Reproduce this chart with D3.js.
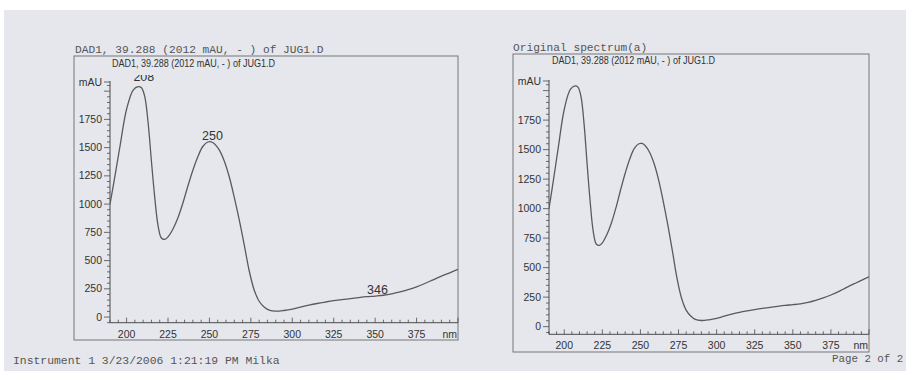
<!DOCTYPE html>
<html><head><meta charset="utf-8">
<script src="https://cdn.jsdelivr.net/npm/d3@7"></script>
<style>
html,body{margin:0;padding:0;background:#fff;}
svg{display:block;}
</style></head>
<body>
<svg id="c" width="906" height="371"></svg>
<script>
// Spectrum data (wavelength nm, absorbance mAU)
const wavelengths = [190,193,196,200,204,207,209,211,213,215,217,219,221,223,225,228,231,234,237,240,243,246,249,251,253,256,259,262,265,268,271,274,277,280,283,286,290,295,300,305,310,315,320,325,330,335,340,345,350,355,360,365,370,375,380,385,390,395,400];
const absorbance  = [1000,1250,1510,1840,2010,2040,2030,1950,1720,1380,1060,810,700,688,710,780,880,1010,1160,1300,1420,1510,1550,1552,1535,1478,1380,1240,1060,860,640,410,240,140,90,62,52,58,70,88,105,120,133,145,155,163,172,180,186,193,205,222,243,268,297,330,362,392,422];
const xTicks = [200,225,250,275,300,325,350,375];
const yTicks = [0,250,500,750,1000,1250,1500,1750];
const peakNm = [208,250,346];
const peakLabels = ["208","250","346"];
const outerTitles = ["DAD1, 39.288 (2012 mAU, - ) of JUG1.D","Original spectrum(a)"];
const innerTitle = "DAD1, 39.288 (2012 mAU, - ) of JUG1.D";
const footerLeft = "Instrument 1 3/23/2006 1:21:19 PM Milka";
const footerRight = "Page 2 of 2";

const data = wavelengths.map((w,i)=>({w, a:absorbance[i]}));
const svg = d3.select("#c");
svg.append("rect").attr("x",4).attr("y",10).attr("width",902).attr("height",361).attr("fill","#e5e7ed");

const ink = "#4a4a4a";
const mono = "'Liberation Mono','DejaVu Sans Mono',monospace";
const sans = "'Liberation Sans',Arial,sans-serif";

const panels = [
  {box:[74,56,458,340], px:[110,458], py:[322.7,81], yd:[-50,2090], title:outerTitles[0], tx:75, ty:53, inner:[112,67,163], labels:true},
  {box:[513,54,869,352], px:[549,869], py:[334.3,80], yd:[-65,2090], title:outerTitles[1], tx:513, ty:51, inner:[552,64,163], labels:false}
];

panels.forEach((p,pi)=>{
  const g = svg.append("g");
  g.append("text").attr("x",p.tx).attr("y",p.ty).attr("font-family",mono).attr("font-size",11.2)
   .attr("fill","#555").text(p.title);
  g.append("rect").attr("x",p.box[0]).attr("y",p.box[1]).attr("width",p.box[2]-p.box[0]).attr("height",p.box[3]-p.box[1])
   .attr("fill","none").attr("stroke","#777").attr("stroke-width",1);
  g.append("text").attr("x",p.inner[0]).attr("y",p.inner[1]).attr("font-family",sans).attr("font-size",10)
   .attr("textLength",p.inner[2]).attr("lengthAdjust","spacingAndGlyphs").attr("fill","#333").text(innerTitle);

  const x = d3.scaleLinear().domain([190,400]).range(p.px);
  const y = d3.scaleLinear().domain(p.yd).range(p.py);

  // x axis
  const xa = g.append("g").attr("transform",`translate(0,${p.py[0]})`);
  xa.append("line").attr("x1",p.px[0]).attr("x2",p.px[1]).attr("stroke",ink);
  d3.range(190,401,5).forEach(v=>{
    const major = v%25===0;
    xa.append("line").attr("x1",x(v)).attr("x2",x(v)).attr("y1",0).attr("y2",major?-5:-3).attr("stroke",ink).attr("stroke-width",0.8);
  });
  xTicks.forEach(v=>{
    xa.append("text").attr("x",x(v)).attr("y",15).attr("text-anchor","middle").attr("font-family",sans)
      .attr("font-size",10.5).attr("fill","#333").text(v);
  });
  xa.append("text").attr("x",p.px[1]-1).attr("y",15).attr("text-anchor","end").attr("font-family",sans)
    .attr("font-size",10.5).attr("fill","#333").text("nm");

  // y axis
  const ya = g.append("g").attr("transform",`translate(${p.px[0]},0)`);
  ya.append("line").attr("y1",p.py[0]).attr("y2",p.py[1]).attr("stroke",ink);
  d3.range(-50,2051,50).forEach(v=>{
    if (y(v) > p.py[0] || y(v) < p.py[1]) return;
    const major = v%250===0;
    ya.append("line").attr("x1",0).attr("x2",major?-6:-3).attr("y1",y(v)).attr("y2",y(v)).attr("stroke",ink).attr("stroke-width",0.8);
  });
  ya.append("line").attr("x1",0).attr("x2",-6).attr("y1",p.py[1]+1).attr("y2",p.py[1]+1).attr("stroke",ink).attr("stroke-width",0.8);
  yTicks.forEach(v=>{
    ya.append("text").attr("x",-8).attr("y",y(v)+3.5).attr("text-anchor","end").attr("font-family",sans)
      .attr("font-size",10.5).attr("fill","#333").text(v);
  });
  ya.append("text").attr("x",-8).attr("y",p.py[1]+4.5).attr("text-anchor","end").attr("font-family",sans)
    .attr("font-size",10.5).attr("fill","#333").text("mAU");

  // clip
  const cid = "clip"+pi;
  svg.append("clipPath").attr("id",cid).append("rect")
    .attr("x",p.px[0]).attr("y",p.py[1]-6).attr("width",p.px[1]-p.px[0]).attr("height",p.py[0]-p.py[1]+6);
  const line = d3.line().x(d=>x(d.w)).y(d=>y(d.a)).curve(d3.curveCatmullRom.alpha(0.5));
  g.append("path").datum(data).attr("d",line).attr("fill","none").attr("stroke","#5a5a5a")
    .attr("stroke-width",1.3).attr("clip-path",`url(#${cid})`);

  if (p.labels) {
    const lg = g.append("g").attr("clip-path",`url(#${cid})`);
    const off = [6, 2, 3];
    const dx = [4, 3, 9];
    const interp = d3.scaleLinear().domain(wavelengths).range(absorbance);
    peakNm.forEach((nm,i)=>{
      const yy = y(interp(nm)) - off[i];
      lg.append("text").attr("x",x(nm)+dx[i]).attr("y",yy).attr("text-anchor","middle").attr("font-family",sans)
        .attr("font-size",12.5).attr("fill","#333").text(peakLabels[i]);
    });
  }
});

svg.append("text").attr("x",13).attr("y",364).attr("font-family",mono).attr("font-size",11.4).attr("fill","#555").text(footerLeft);
svg.append("text").attr("x",832).attr("y",362).attr("font-family",mono).attr("font-size",10.8).attr("fill","#555").text(footerRight);
</script>
</body></html>
